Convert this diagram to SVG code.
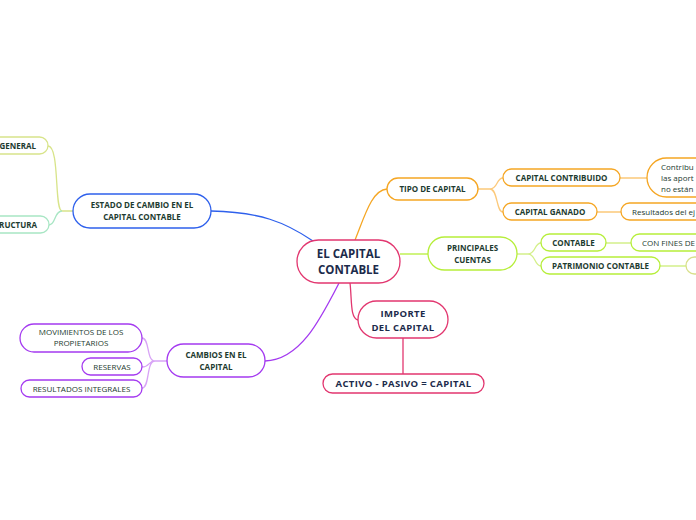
<svg xmlns="http://www.w3.org/2000/svg" width="696" height="520" viewBox="0 0 696 520">
<style>
.n{fill:#fff;stroke-width:1.3}
.t{font-family:"Open Sans","Noto Sans",sans-serif;font-size:8px;fill:#1d3b30;text-anchor:middle}
.b{font-weight:bold}
.big{font-size:9.5px;fill:#1c2b4b;letter-spacing:0.35px}
.c{fill:none;stroke-width:1.3}
.or{stroke:#f5a623}
.li{stroke:#b6ee3a}
.pk{stroke:#e2366f}
.pu{stroke:#a43af0}
.bl{stroke:#2e60ec}
</style>
<rect width="696" height="520" fill="#fff"/>
<g id="connectors">
<path class="c bl" d="M211,211 C260,212 285,222 313,241"/>
<path class="c or" d="M355,240 C365,215 372,190 387,189"/>
<path class="c li" d="M400,254 L428,254"/>
<path class="c pk" d="M350,283 C352,300 350,318 358,320"/>
<path class="c pu" d="M339,283 C320,320 300,360 265,361"/>
<path class="c pk" d="M403,338 L403,374"/>
<path class="c" stroke="#d8e48a" d="M73,211 L62,211 C54,211 60,146 48,146"/>
<path class="c" stroke="#a8e6c4" d="M62,211 C54,211 56,225 49,225"/>
<path class="c" stroke="#fcc97a" d="M478,189 L490,189 C498,189 496,178 503,178 M490,189 C498,189 496,212 503,212"/>
<path class="c" stroke="#fcc97a" d="M620,178 L647,178 M597,212 L621,212"/>
<path class="c" stroke="#d4f08a" d="M517,254 L528,254 C536,254 534,243 541,243 M528,254 C536,254 534,266 541,266 M606,243 L631,243 M660,266 L686,266"/>
<path class="c" stroke="#d8a4f6" d="M167,361 L155,361 C146,361 150,338 142,338 M155,361 C148,361 150,367 142,367 M155,361 C146,361 150,388 142,388"/>
</g>
<g id="central">
<rect class="n" x="297" y="240" width="103" height="43" rx="21.5" stroke="#e2366f" stroke-width="1.6"/>
<text class="t b" x="348.5" y="258" style="font-size:11.5px;fill:#1c2b4b">EL CAPITAL</text>
<text class="t b" x="348.5" y="274" style="font-size:11.5px;fill:#1c2b4b">CONTABLE</text>
</g>
<g id="estado">
<rect class="n bl" x="73" y="194" width="138" height="34" rx="17"/>
<text class="t b" x="142" y="208">ESTADO DE CAMBIO EN EL</text>
<text class="t b" x="142" y="220">CAPITAL CONTABLE</text>
</g>
<g id="general">
<rect class="n" x="-20" y="137" width="68" height="17" rx="8.5" stroke="#d8e48a"/>
<text class="t b" x="36" y="148.8" style="text-anchor:end">GENERAL</text>
</g>
<g id="estructura">
<rect class="n" x="-20" y="216" width="69" height="17" rx="8.5" stroke="#a8e6c4"/>
<text class="t b" x="37" y="227.8" style="text-anchor:end">RUCTURA</text>
</g>
<g id="tipo">
<rect class="n or" x="387" y="178" width="91" height="22" rx="11"/>
<text class="t b" x="432.5" y="192">TIPO DE CAPITAL</text>
</g>
<g id="contribuido">
<rect class="n or" x="503" y="169" width="117" height="17" rx="8.5"/>
<text class="t b" x="561.5" y="180.8">CAPITAL CONTRIBUIDO</text>
</g>
<g id="ganado">
<rect class="n or" x="503" y="203" width="94" height="17" rx="8.5"/>
<text class="t b" x="550" y="214.8">CAPITAL GANADO</text>
</g>
<g id="contribu-desc">
<rect class="n or" x="647" y="158" width="80" height="39" rx="19.5"/>
<text class="t" x="661" y="170" style="text-anchor:start">Contribu</text>
<text class="t" x="661" y="181" style="text-anchor:start">las aport</text>
<text class="t" x="661" y="192" style="text-anchor:start">no están</text>
</g>
<g id="resultados-ej">
<rect class="n or" x="621" y="203" width="100" height="17" rx="8.5"/>
<text class="t" x="632" y="214.8" style="text-anchor:start">Resultados del ej</text>
</g>
<g id="principales">
<rect class="n li" x="428" y="237" width="89" height="33" rx="16.5"/>
<text class="t b" x="472.5" y="251">PRINCIPALES</text>
<text class="t b" x="472.5" y="263">CUENTAS</text>
</g>
<g id="contable">
<rect class="n li" x="541" y="234" width="65" height="17" rx="8.5"/>
<text class="t b" x="573.5" y="245.8">CONTABLE</text>
</g>
<g id="patrimonio">
<rect class="n li" x="541" y="257" width="119" height="17" rx="8.5"/>
<text class="t b" x="600.5" y="268.8">PATRIMONIO CONTABLE</text>
</g>
<g id="confines">
<rect class="n li" x="631" y="234" width="90" height="17" rx="8.5"/>
<text class="t" x="642" y="245.8" style="text-anchor:start">CON FINES DE</text>
</g>
<g id="patrimonio-child">
<rect class="n" x="686" y="257" width="40" height="17" rx="8.5" stroke="#d8e08a"/>
</g>
<g id="importe">
<rect class="n pk" x="358" y="301" width="90" height="37" rx="18.5"/>
<text class="t b big" x="403" y="317">IMPORTE</text>
<text class="t b big" x="403" y="331">DEL CAPITAL</text>
</g>
<g id="activo">
<rect class="n pk" x="323" y="374" width="161" height="19" rx="9.5"/>
<text class="t b big" x="403.5" y="387">ACTIVO - PASIVO = CAPITAL</text>
</g>
<g id="cambios">
<rect class="n pu" x="167" y="344" width="98" height="33" rx="16.5"/>
<text class="t b" x="216" y="358">CAMBIOS EN EL</text>
<text class="t b" x="216" y="370">CAPITAL</text>
</g>
<g id="movimientos">
<rect class="n pu" x="20" y="324" width="122" height="28" rx="14"/>
<text class="t" x="81" y="335">MOVIMIENTOS DE LOS</text>
<text class="t" x="81" y="346">PROPIETARIOS</text>
</g>
<g id="reservas">
<rect class="n pu" x="82" y="358" width="60" height="17" rx="8.5"/>
<text class="t" x="112" y="369.8">RESERVAS</text>
</g>
<g id="integrales">
<rect class="n pu" x="21" y="380" width="121" height="17" rx="8.5"/>
<text class="t" x="81.5" y="391.8">RESULTADOS INTEGRALES</text>
</g>
</svg>
